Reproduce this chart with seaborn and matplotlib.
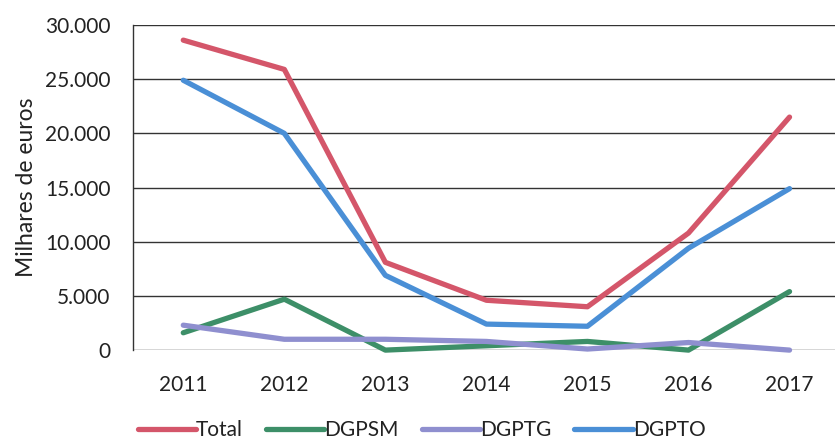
import matplotlib
matplotlib.use("Agg")
import matplotlib.pyplot as plt
import seaborn as sns
import pandas as pd
from matplotlib.ticker import FuncFormatter, MultipleLocator

years = ["2011", "2012", "2013", "2014", "2015", "2016", "2017"]
total = [28600, 25900, 8100, 4600, 4000, 10800, 21500]
dgpsm = [1600, 4700, 0, 400, 800, 0, 5400]
dgptg = [2300, 1000, 1000, 800, 100, 700, 0]
dgpto = [24900, 20000, 6900, 2400, 2200, 9400, 14900]
series_names = ["Total", "DGPSM", "DGPTG", "DGPTO"]
colors = ["#d4566a", "#3d8f68", "#8f8fcf", "#4a8fd6"]

rows = []
for name, vals in zip(series_names, [total, dgpsm, dgptg, dgpto]):
    for i, (y, v) in enumerate(zip(years, vals)):
        rows.append({"pos": i, "year": y, "value": v, "series": name})
df = pd.DataFrame(rows)

sns.set_style("white")
plt.rcParams['font.family'] = ['Lato', 'DejaVu Sans']

fig = plt.figure(figsize=(8.35, 4.46), dpi=100)
ax = fig.add_axes([0.159, 0.215, 0.841, 0.729])

sns.lineplot(data=df, x="pos", y="value", hue="series", hue_order=series_names,
             palette=colors, linewidth=3.8, ax=ax, legend=False, sort=False)
for ln in ax.lines:
    ln.set_solid_capstyle("round")
    ln.set_clip_on(False)

ax.set_xlim(-0.5, 6.45)
ax.set_ylim(0, 30000)
ax.yaxis.set_major_locator(MultipleLocator(5000))
ax.yaxis.set_major_formatter(FuncFormatter(lambda v, p: f"{int(v):,}".replace(",", ".")))
ax.set_xticks(range(len(years)))
ax.set_xticklabels(years)
ax.grid(axis="y", color="#333333", linewidth=1.0)
ax.set_axisbelow(True)
for s in ["top", "right", "bottom"]:
    ax.spines[s].set_visible(False)
ax.spines["left"].set_color("#333333")
ax.spines["left"].set_linewidth(1.0)
ax.tick_params(axis="both", length=0, labelsize=15, colors="#222222")
ax.tick_params(axis="x", pad=18)
ax.tick_params(axis="y", pad=16)
ax.set_xlabel("")
ax.set_ylabel("Milhares de euros", fontsize=16.5, color="#222222", labelpad=6)

handles = [plt.Line2D([0], [0], color=c, linewidth=3.8, solid_capstyle="round") for c in colors]
fig.legend(handles, series_names, loc="center", bbox_to_anchor=(0.505, 0.035),
           ncol=4, frameon=False, fontsize=15, handlelength=2.8, handletextpad=0.0,
           columnspacing=1.1, labelcolor="#222222")

fig.savefig("out.png", dpi=100, facecolor="white")
